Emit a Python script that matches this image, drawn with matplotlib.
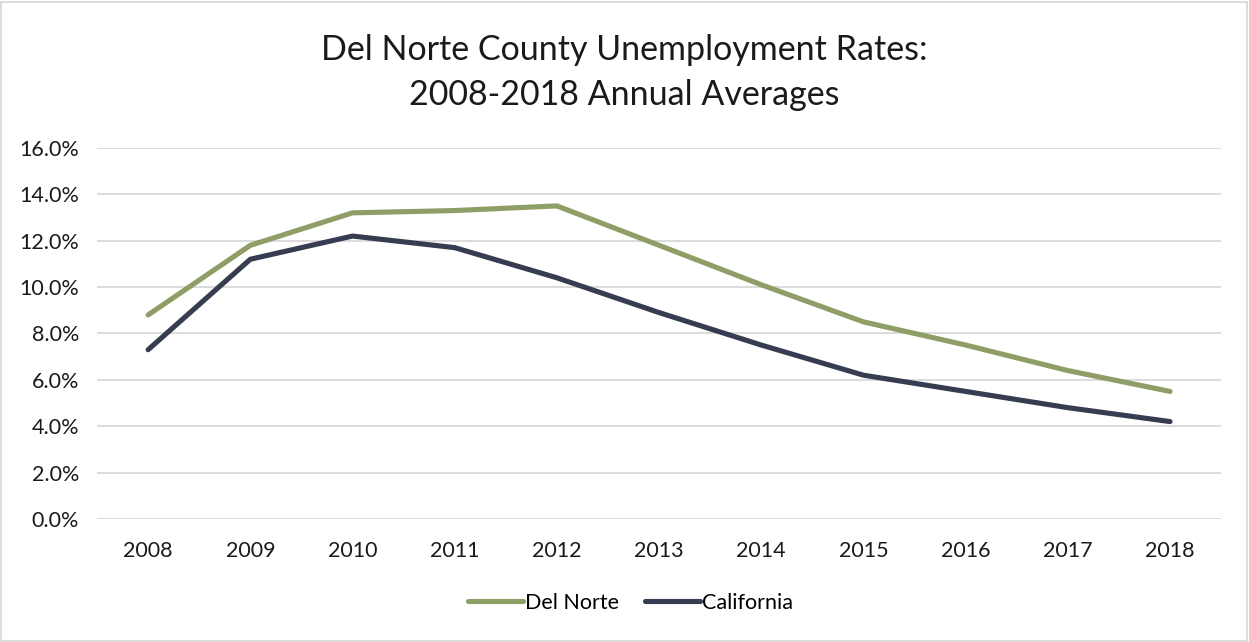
#!/usr/bin/env python3

import matplotlib
matplotlib.use('Agg')
import matplotlib.pyplot as plt
from matplotlib.patches import Rectangle
from matplotlib.ticker import FuncFormatter

years = ['2008', '2009', '2010', '2011', '2012', '2013',
         '2014', '2015', '2016', '2017', '2018']
del_norte = [8.8, 11.8, 13.2, 13.3, 13.5, 11.8, 10.1, 8.5, 7.5, 6.4, 5.5]
california = [7.3, 11.2, 12.2, 11.7, 10.4, 8.9, 7.5, 6.2, 5.5, 4.8, 4.2]
y_ticks = [0, 2, 4, 6, 8, 10, 12, 14, 16]

GREEN = '#8E9E66'
NAVY = '#363D50'
GRID = '#D9D9D9'

plt.rcParams['font.family'] = ['Lato', 'DejaVu Sans']


def main():
    fig = plt.figure(figsize=(12.49, 6.42), dpi=100)
    fig.patch.set_facecolor('white')

    # light frame round the whole chart area
    fig.add_artist(Rectangle((0.001, 0.002), 0.997, 0.995, transform=fig.transFigure,
                             fill=False, edgecolor=GRID, linewidth=1.3))

    ax = fig.add_axes([0.0777, 0.1916, 0.900, 0.578])
    x = range(len(years))
    ax.plot(x, del_norte, color=GREEN, lw=3.7, solid_capstyle='round',
            solid_joinstyle='round', label='Del Norte', zorder=3)
    ax.plot(x, california, color=NAVY, lw=3.7, solid_capstyle='round',
            solid_joinstyle='round', label='California', zorder=3)

    ax.set_xlim(-0.5, len(years) - 0.5)
    ax.set_ylim(0, 16)
    ax.set_yticks(y_ticks)
    ax.yaxis.set_major_formatter(FuncFormatter(lambda v, p: f'{v:.1f}%'))
    ax.set_xticks(list(x))
    ax.set_xticklabels(years)
    ax.tick_params(length=0, labelsize=15.5, colors='#1a1a1a')
    ax.tick_params(axis='x', pad=16)
    ax.tick_params(axis='y', pad=13)
    ax.grid(axis='y', color=GRID, linewidth=1.3)
    ax.set_axisbelow(True)
    for s in ax.spines.values():
        s.set_visible(False)

    fig.text(0.5, 0.887, 'Del Norte County Unemployment Rates:\n2008-2018 Annual Averages',
             ha='center', va='center', fontsize=24.5, linespacing=1.5, color='#1a1a1a')

    fig.legend(loc='center', bbox_to_anchor=(0.505, 0.061), ncol=2, frameon=False,
               fontsize=15.5, handlelength=2.55, handletextpad=0.1, columnspacing=1.2)

    fig.savefig('out.png', dpi=100, facecolor='white')


if __name__ == "__main__":
    main()
